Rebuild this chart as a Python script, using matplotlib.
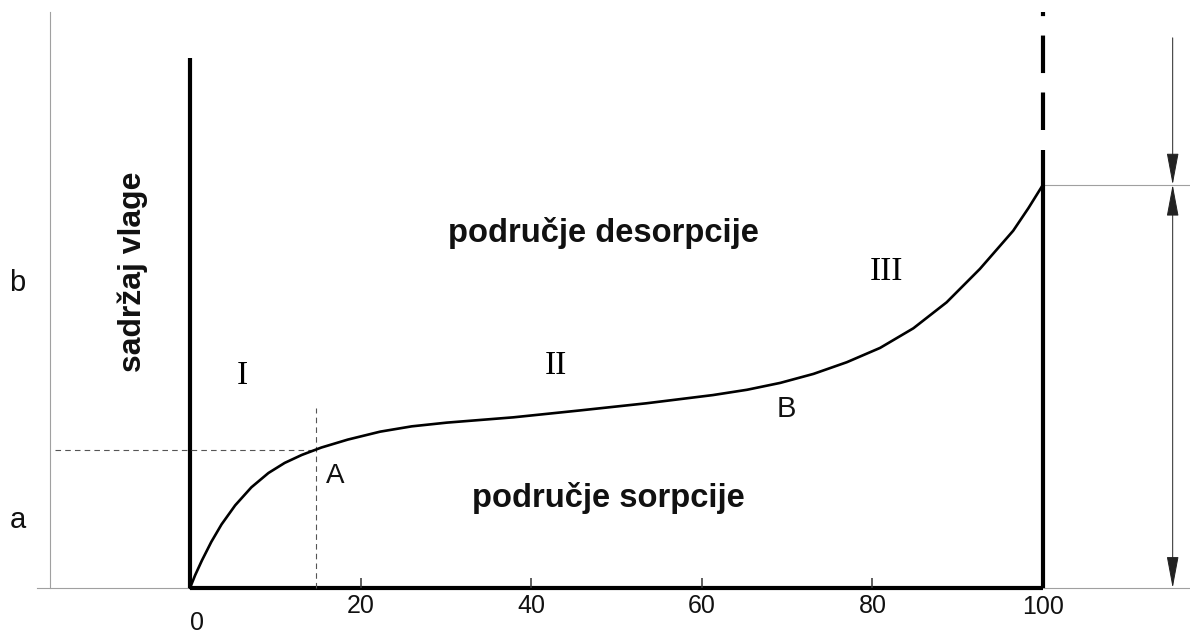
import numpy as np
import matplotlib.pyplot as plt

plt.rcParams['font.family'] = ['Liberation Sans', 'DejaVu Sans']
plt.rcParams['lines.scale_dashes'] = False

# sorption isotherm: relative humidity (%) vs moisture content (arbitrary units)
rh = [0, 0.6, 1.4, 2.5, 3.7, 5.3, 7.2, 9.2, 11.1, 13.1, 15.4, 18.5, 22.3, 26.0,
      30.1, 37.9, 45.7, 53.5, 61.3, 65.3, 69.2, 73.1, 77.0, 80.9, 84.8, 88.7,
      92.6, 96.5, 98.3, 100]
moisture = [0, 2.4, 5.2, 8.7, 12.0, 15.6, 19.0, 21.7, 23.6, 25.1, 26.5, 28.0, 29.5, 30.5,
            31.2, 32.2, 33.5, 34.85, 36.4, 37.4, 38.7, 40.4, 42.6, 45.3, 49.0, 53.9,
            60.2, 67.4, 71.7, 76.1]

ticks = [20, 40, 60, 80]
tick_labels = ["20", "40", "60", "80"]

# point A (end of region I) and moisture at RH = 100
A_rh, A_m = 14.8, 26.0
top_m = 76.1

fig = plt.figure(figsize=(11.9, 6.33), dpi=100)
ax = fig.add_axes([0, 0, 1, 1])
ax.set_xlim(-22.27, 117.23)
ax.set_ylim(-8.49, 110.94)
ax.axis("off")

thin = "#a0a0a0"

# thin frame lines
ax.plot([-17.9, 117.3], [0, 0], color=thin, lw=0.8)
ax.plot([-16.4, -16.4], [0, 108.7], color=thin, lw=0.8)
ax.plot([100, 117.3], [top_m, top_m], color=thin, lw=0.8)

# thick axes
ax.plot([0, 100], [0, 0], color="black", lw=3.0, solid_capstyle="butt")
ax.plot([0, 0], [0, 100], color="black", lw=3.0, solid_capstyle="butt")
ax.plot([100, 100], [0, 82.6], color="black", lw=3.0, solid_capstyle="butt")
ax.plot([100, 100], [86.4, 108.6], color="black", lw=3.0,
        linestyle=(0, (27, 14)), solid_capstyle="butt", dash_capstyle="butt")

# ticks
ax.vlines(ticks, 0, 1.9, color="#333333", lw=1.1)
for t, lab in zip(ticks, tick_labels):
    ax.text(t, -4.8, lab, ha="center", va="baseline", fontsize=18, color="#111111")
ax.text(100, -4.9, "100", ha="center", va="baseline", fontsize=18, color="#111111")
ax.text(0.8, -7.9, "0", ha="center", va="baseline", fontsize=18, color="#111111")

# guide lines to point A
ax.plot([-15.8, A_rh], [A_m, A_m], color="#555555", lw=0.8, linestyle=(0, (4, 3)))
ax.plot([A_rh, A_rh], [0, 34.0], color="#555555", lw=0.8, linestyle=(0, (4, 3)))

# isotherm
ax.plot(rh, moisture, color="black", lw=1.9, solid_capstyle="round",
        solid_joinstyle="round")

# arrows on the right
head = "head_length=0.4,head_width=0.075"
ax.annotate("", xy=(115.2, top_m), xytext=(115.2, 103.8),
            arrowprops=dict(arrowstyle="-|>," + head,
                            mutation_scale=50, color="#222222", lw=0.7,
                            shrinkA=0, shrinkB=0))
ax.annotate("", xy=(115.2, 0), xytext=(115.2, top_m),
            arrowprops=dict(arrowstyle="<|-|>," + head,
                            mutation_scale=50, color="#222222", lw=0.7,
                            shrinkA=0, shrinkB=0))

# labels
ax.text(-6.7, 59.6, "sadržaj vlage", rotation=90, ha="center", va="center",
        fontsize=23, fontweight="bold", color="#111111")
ax.text(48.5, 65.3, "područje desorpcije", ha="center", va="baseline",
        fontsize=23.6, fontweight="bold", color="#111111")
ax.text(49.0, 15.3, "područje sorpcije", ha="center", va="baseline",
        fontsize=23.6, fontweight="bold", color="#111111")

serif = ['Liberation Serif', 'DejaVu Serif']
ax.text(6.1, 38.5, "I", family=serif, ha="center", va="baseline", fontsize=24)
ax.text(42.9, 40.4, "II", family=serif, ha="center", va="baseline", fontsize=24)
ax.text(81.7, 58.1, "III", family=serif, ha="center", va="baseline", fontsize=24)

ax.text(17.0, 19.8, "A", ha="center", va="baseline", fontsize=20, color="#111111")
ax.text(69.9, 32.3, "B", ha="center", va="baseline", fontsize=21, color="#111111")

ax.text(-20.2, 56.0, "b", ha="center", va="baseline", fontsize=21, color="#111111")
ax.text(-20.2, 11.3, "a", ha="center", va="baseline", fontsize=21, color="#111111")

fig.savefig("out.png", dpi=100)
